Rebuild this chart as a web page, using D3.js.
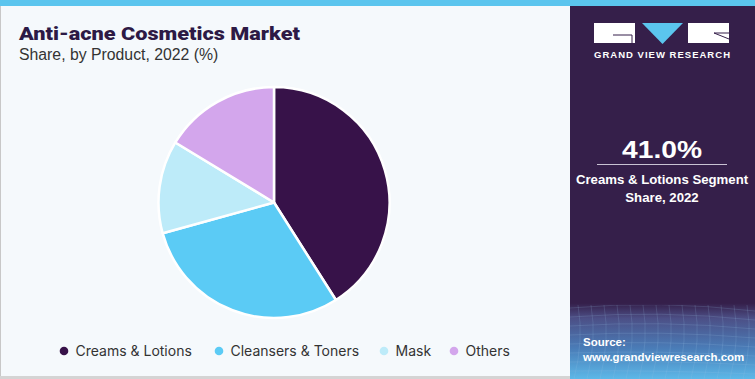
<!DOCTYPE html>
<html><head><meta charset="utf-8">
<script src="https://cdn.jsdelivr.net/npm/d3@7"></script>
<style>
html,body{margin:0;padding:0;background:#fff;}
svg{display:block;}
</style></head>
<body>
<svg id="chart" width="755" height="379"></svg>
<script>
const categories = ["Creams & Lotions", "Cleansers & Toners", "Mask", "Others"];
const shares = [41.0, 29.7, 13.0, 16.3];
const colors = ["#371249", "#5BCBF5", "#BDEBF9", "#D3A6EC"];
const titleText = "Anti-acne Cosmetics Market";
const subtitleText = "Share, by Product, 2022 (%)";
const highlightValue = "41.0%";
const highlightLines = ["Creams & Lotions Segment", "Share, 2022"];

const svg = d3.select("#chart");
const W = 755, H = 379;
const defs = svg.append("defs");

// backgrounds
svg.append("rect").attr("x",0).attr("y",0).attr("width",570).attr("height",H).attr("fill","#F5F9FC");
svg.append("rect").attr("x",0).attr("y",0).attr("width",1).attr("height",H).attr("fill","#C8C8C8");
svg.append("rect").attr("x",0).attr("y",376).attr("width",570).attr("height",3).attr("fill","#D4D4D4");

// right panel
const grad = defs.append("linearGradient").attr("id","panelGrad").attr("x1",0).attr("y1",0).attr("x2",0).attr("y2",1);
grad.append("stop").attr("offset","0%").attr("stop-color","#351F4A");
grad.append("stop").attr("offset","80%").attr("stop-color","#351F4A");
grad.append("stop").attr("offset","84%").attr("stop-color","#4C4F86");
grad.append("stop").attr("offset","92%").attr("stop-color","#4A7DB8");
grad.append("stop").attr("offset","100%").attr("stop-color","#5DB8E8");
svg.append("rect").attr("x",570).attr("y",0).attr("width",185).attr("height",H).attr("fill","url(#panelGrad)");

// faint grid texture in the lower panel
const gridG = svg.append("g").attr("stroke","#9FC6EA").attr("stroke-opacity",0.25).attr("fill","none").attr("stroke-width",0.7);
const clip = defs.append("clipPath").attr("id","gridClip");
clip.append("rect").attr("x",570).attr("y",305).attr("width",185).attr("height",74);
gridG.attr("clip-path","url(#gridClip)");
for (let i = 0; i < 16; i++) {
  const x0 = 565 + i * 13;
  gridG.append("path").attr("d", `M${x0},305 Q${x0 + 6},340 ${x0 - 4},379`);
}
for (let j = 0; j < 9; j++) {
  const y0 = 308 + j * 9;
  gridG.append("path").attr("d", `M570,${y0} Q660,${y0 - 8 + j} 755,${y0 + 3}`);
}

// top bar
svg.append("rect").attr("x",0).attr("y",0).attr("width",W).attr("height",6).attr("fill","#5BC5EE");

// logo
const logo = svg.append("g");
logo.append("rect").attr("x",594).attr("y",23).attr("width",41).attr("height",20).attr("fill","#FFFFFF");
logo.append("path").attr("d","M613,35 L632,35 L632,43").attr("stroke","#351F4A").attr("stroke-width",1).attr("fill","none");
logo.append("path").attr("d","M642,23 L683,23 L662.5,44 Z").attr("fill","#5BC5EE");
logo.append("rect").attr("x",688).attr("y",23).attr("width",41).attr("height",20).attr("fill","#FFFFFF");
logo.append("path").attr("d","M714,33 L729,33 M714,33 L729,39").attr("stroke","#351F4A").attr("stroke-width",1).attr("fill","none");
logo.append("text").attr("x",594).attr("y",58)
  .attr("font-family","Liberation Sans, Arial, sans-serif").attr("font-weight","bold").attr("font-size",9.5)
  .attr("textLength",136).attr("lengthAdjust","spacing").attr("fill","#FFFFFF").text("GRAND VIEW RESEARCH");

// highlight
svg.append("text").attr("x",622).attr("y",157.5)
  .attr("font-family","Liberation Sans, Arial, sans-serif").attr("font-weight","bold").attr("font-size",23.5)
  .attr("textLength",80).attr("lengthAdjust","spacingAndGlyphs")
  .attr("fill","#FFFFFF").text(highlightValue);
svg.append("line").attr("x1",597).attr("x2",727).attr("y1",164.5).attr("y2",164.5).attr("stroke","#C9C2D3").attr("stroke-width",1);
highlightLines.forEach((t,i) => {
  svg.append("text").attr("x",662).attr("y",184 + i*17.5).attr("text-anchor","middle")
    .attr("font-family","Liberation Sans, Arial, sans-serif").attr("font-weight","bold").attr("font-size",13.2)
    .attr("fill","#FFFFFF").text(t);
});

// source
svg.append("text").attr("x",583).attr("y",346).attr("font-family","Liberation Sans, Arial, sans-serif")
  .attr("font-weight","bold").attr("font-size",11.5).attr("fill","#FFFFFF").text("Source:");
svg.append("text").attr("x",583).attr("y",360.5).attr("font-family","Liberation Sans, Arial, sans-serif")
  .attr("font-weight","bold").attr("font-size",11.5).attr("fill","#FFFFFF").text("www.grandviewresearch.com");

// titles
svg.append("text").attr("x",19).attr("y",40).attr("font-family","Roboto, Liberation Sans, sans-serif")
  .attr("font-weight",900).attr("font-size",19).attr("textLength",281).attr("lengthAdjust","spacingAndGlyphs")
  .attr("fill","#2D1A45").text(titleText);
svg.append("text").attr("x",19).attr("y",60).attr("font-family","Liberation Sans, Arial, sans-serif")
  .attr("font-size",15.8).attr("fill","#333333").text(subtitleText);

// pie
const cx = 274, cy = 202.5, R = 115.5;
const pie = d3.pie().sort(null).value(d => d.v);
const arc = d3.arc().innerRadius(0).outerRadius(R);
const data = categories.map((c,i) => ({c, v: shares[i], color: colors[i]}));
svg.append("g").attr("transform",`translate(${cx},${cy})`)
  .selectAll("path").data(pie(data)).join("path")
  .attr("d", arc).attr("fill", d => d.data.color)
  .attr("stroke","#FFFFFF").attr("stroke-width",2.5).attr("stroke-linejoin","round");

// legend
const legendX = [64, 219, 384, 454];
const lg = svg.append("g");
data.forEach((d,i) => {
  const g = lg.append("g").attr("transform",`translate(${legendX[i]},351)`);
  g.append("circle").attr("r",4.3).attr("fill",d.color);
  g.append("text").attr("x",11.5).attr("y",5).attr("font-family","Inter, Noto Sans, sans-serif")
    .attr("font-size",14).attr("fill","#333333").text(d.c);
});
</script>
</body></html>
